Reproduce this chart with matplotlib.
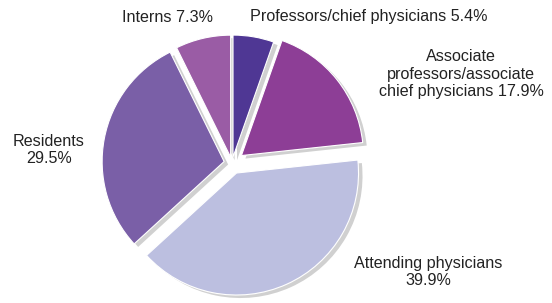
import matplotlib
matplotlib.use("Agg")
import matplotlib.pyplot as plt

categories = ["Professors/chief physicians", "Associate professors/associate chief physicians",
              "Attending physicians", "Residents", "Interns"]
values = [5.4, 17.9, 39.9, 29.5, 7.3]
colors = ["#4f3794", "#8d3e96", "#bcbfe0", "#7a5fa7", "#9a5ca5"]

W, H = 552, 303
fig = plt.figure(figsize=(W / 100, H / 100), dpi=100)
ax = fig.add_axes([0, 0, 1, 1])

cx, cy, r = 232, H - 163, 122
explode = [6, 12, 11, 8, 6]  # offsets in pixels

# shadow
ax.pie(values, startangle=90, counterclock=False, colors=["#d0d0d0"] * len(values),
       center=(cx + 4, cy - 3), radius=r, explode=explode,
       wedgeprops=dict(linewidth=0), frame=True)
ax.pie(values, startangle=90, counterclock=False, colors=colors,
       center=(cx, cy), radius=r, explode=explode,
       wedgeprops=dict(edgecolor="white", linewidth=0.8), frame=True)
ax.set_xlim(0, W)
ax.set_ylim(0, H)
ax.set_aspect("equal")
ax.axis("off")

fs = 11.6
fam = ["Liberation Sans", "DejaVu Sans"]
col = "#222222"
ls = 1.2
ax.text(167, H - 17, "Interns 7.3%", ha="center", va="center", fontsize=fs, family=fam, color=col)
ax.text(250, H - 17, "Professors/chief physicians 5.4%", ha="left", va="center", fontsize=fs, family=fam, color=col)
ax.text(461, H - 74, "Associate\nprofessors/associate\nchief physicians 17.9%", ha="center", va="center",
        fontsize=fs, family=fam, color=col, linespacing=ls)
ax.text(49, H - 150, "Residents\n29.5%", ha="center", va="center", fontsize=fs, family=fam, color=col, linespacing=ls)
ax.text(428, H - 272, "Attending physicians\n39.9%", ha="center", va="center", fontsize=fs, family=fam, color=col, linespacing=ls)

fig.savefig("out.png", dpi=100)
